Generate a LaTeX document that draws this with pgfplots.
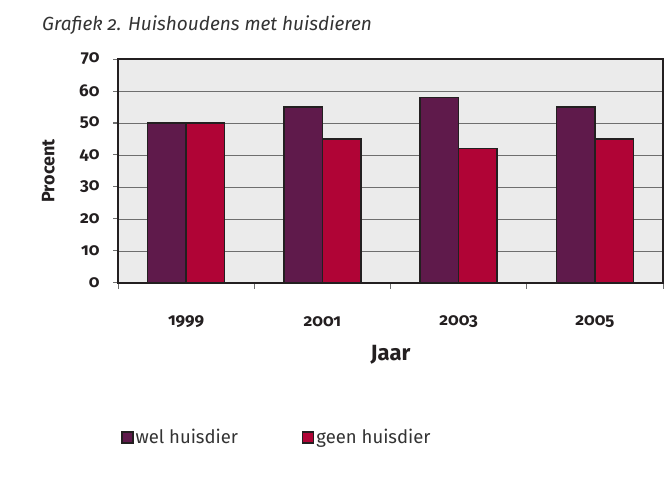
\documentclass[border=0pt]{standalone}
\usepackage{fontspec}
\setmainfont{Fira Sans}[Numbers=OldStyle]
\usepackage{pgfplots}
\pgfplotsset{compat=1.18}
\definecolor{welpaars}{HTML}{5F1A4B}
\definecolor{geenrood}{HTML}{B00436}
\definecolor{vlak}{HTML}{EBEBEB}
\definecolor{rand}{HTML}{231F20}
\definecolor{raster}{HTML}{6E6E6E}
\definecolor{tekst}{HTML}{333333}

\begin{document}
\begin{tikzpicture}
\path[use as bounding box] (0,0) rectangle (668pt,484pt);
\node[anchor=west,font=\itshape\fontsize{19}{21}\selectfont,text=tekst,inner sep=0pt] at (42pt,459pt) {Grafiek 2. Huishoudens met huisdieren};
\begin{axis}[
    at={(118pt,201pt)}, anchor=south west,
    scale only axis, width=545pt, height=224pt,
    /pgf/number format/assume math mode=true,
    axis background/.style={fill=vlak},
    axis line style={rand,line width=1.2pt},
    xmin=-0.5, xmax=3.5, ymin=0, ymax=70,
    ytick={0,10,...,70},
    xtick={0,1,2,3},
    xticklabels={1999,2001,2003,2005},
    minor xtick={-0.5,0.5,1.5,2.5,3.5},
    major x tick style={draw=none},
    minor tick length=6pt, major tick length=5pt,
    tick align=outside, tick pos=left,
    tick style={raster,line width=1pt},
    ymajorgrids, grid style={raster,line width=0.9pt},
    ticklabel style={font=\bfseries\fontsize{17}{19}\selectfont,text=rand},
    xticklabel style={anchor=center,yshift=-34pt},
    yticklabel style={xshift=-10pt},
    ylabel={Procent}, xlabel={Jaar},
    every axis y label/.style={at={(axis description cs:-0.128,0.5)},rotate=90,anchor=center,font=\bfseries\fontsize{18}{20}\selectfont,text=rand},
    every axis x label/.style={at={(axis description cs:0.5,-0.321)},anchor=center,font=\bfseries\fontsize{22}{24}\selectfont,text=rand},
    ybar=0pt, bar width=38.5pt,
    every axis plot/.append style={draw=rand,line width=1.4pt},
    legend columns=2,
    legend style={at={(0,-0.635)},anchor=north west,draw=none,fill=none,
        font=\fontsize{18.5}{20}\selectfont,text=tekst,
        /tikz/every even column/.append style={column sep=62pt}},
    legend image code/.code={\draw[#1,line width=1.3pt] (0pt,-5.5pt) rectangle (11pt,5.5pt);},
]
\addplot[fill=welpaars] coordinates {(0,50) (1,55) (2,58) (3,55)};
\addlegendentry{wel huisdier}
\addplot[fill=geenrood] coordinates {(0,50) (1,45) (2,42) (3,45)};
\addlegendentry{geen huisdier}
\end{axis}
\end{tikzpicture}
\end{document}
